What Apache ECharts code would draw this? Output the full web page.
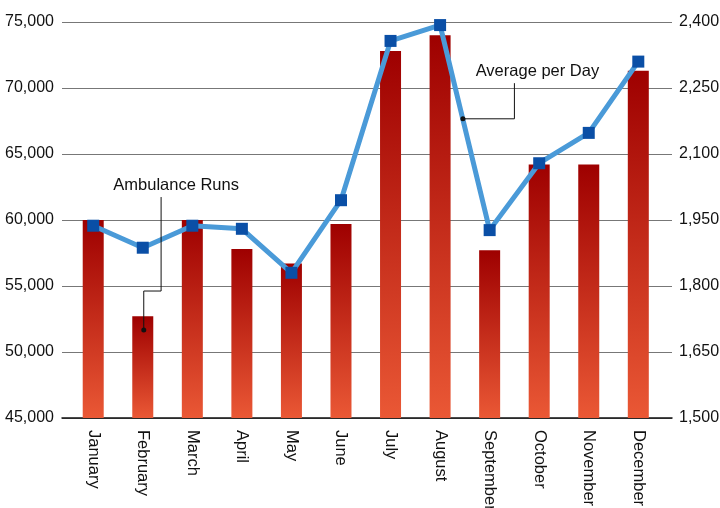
<!DOCTYPE html>
<html>
<head>
<meta charset="utf-8">
<script src="https://cdn.jsdelivr.net/npm/echarts@6/dist/echarts.min.js"></script>
<style>
  html, body { margin: 0; padding: 0; background: #fff; }
  #chart { width: 720px; height: 508px; }
</style>
</head>
<body>
<div id="chart"></div>
<script>
// months on the x axis
const months = ['January', 'February', 'March', 'April', 'May', 'June',
  'July', 'August', 'September', 'October', 'November', 'December'];
// monthly ambulance runs (left axis)
const runs = [60000, 52700, 60000, 57800, 56700, 59700, 72800, 74000, 57700, 64200, 64200, 71300];
// average runs per day (right axis)
const perDay = [1937, 1887, 1937, 1930, 1830, 1995, 2357, 2393, 1927, 2079, 2148, 2310];

// callout leader lines, in data units [monthIndex, value]
const runsCallout = [[1.37, 61740], [1.37, 54620], [1.02, 54620], [1.02, 51670]];
const dayCallout = [[8.5, 2261], [8.5, 2180], [7.46, 2180]];

var chartDom = document.getElementById('chart');
var myChart = echarts.init(chartDom);
var option;

const font = "'Liberation Sans', Arial, sans-serif";
const fmt = v => v.toLocaleString('en-US');

function leader(points, text, dx) {
  return points.map((p, i) => {
    const item = { value: p, symbolSize: 0 };
    if (i === 0) {
      item.label = {
        show: true, position: 'top', distance: 3, offset: [dx, 0],
        formatter: text, fontSize: 16.5, fontFamily: font, color: '#111'
      };
    }
    if (i === points.length - 1) {
      item.symbolSize = 5;
    }
    return item;
  });
}

option = {
  animation: false,
  textStyle: { fontFamily: font },
  grid: { left: 62, right: 48, top: 22, bottom: 90, outerBoundsMode: 'none' },
  xAxis: {
    type: 'value',
    min: -0.63,
    max: 11.68,
    splitLine: { show: false },
    axisTick: { show: false },
    axisLine: { show: true, lineStyle: { color: '#111', width: 1.5 } },
    axisLabel: {
      customValues: months.map((m, i) => i),
      formatter: v => months[Math.round(v)],
      rotate: -90,
      margin: 12,
      fontSize: 16.5,
      color: '#111',
      fontFamily: font
    }
  },
  yAxis: [
    {
      type: 'value',
      min: 45000,
      max: 75000,
      interval: 5000,
      axisLine: { show: false },
      axisTick: { show: false },
      axisLabel: { formatter: fmt, fontSize: 16, color: '#111', margin: 8, fontFamily: font },
      splitLine: { lineStyle: { color: '#777', width: 1 } }
    },
    {
      type: 'value',
      min: 1500,
      max: 2400,
      interval: 150,
      axisLine: { show: false },
      axisTick: { show: false },
      axisLabel: { formatter: fmt, fontSize: 16, color: '#111', margin: 7, fontFamily: font },
      splitLine: { show: false }
    }
  ],
  series: [
    {
      name: 'Ambulance Runs',
      type: 'bar',
      barWidth: 21,
      data: runs.map((v, i) => [i, v]),
      itemStyle: {
        color: new echarts.graphic.LinearGradient(0, 0, 0, 1, [
          { offset: 0, color: '#9e0000' },
          { offset: 1, color: '#ea5835' }
        ])
      },
      z: 2
    },
    {
      name: 'Average per Day',
      type: 'line',
      yAxisIndex: 1,
      data: perDay.map((v, i) => [i, v]),
      symbol: 'rect',
      symbolSize: 12,
      lineStyle: { color: '#4a9ad8', width: 5 },
      itemStyle: { color: '#0a4fa6' },
      z: 4
    },
    {
      type: 'line',
      silent: true,
      data: leader(runsCallout, 'Ambulance Runs', 15),
      symbol: 'circle',
      showSymbol: true,
      showAllSymbol: true,
      lineStyle: { color: '#111', width: 1 },
      itemStyle: { color: '#111', borderWidth: 0 },
      z: 5
    },
    {
      type: 'line',
      silent: true,
      yAxisIndex: 1,
      data: leader(dayCallout, 'Average per Day', 23),
      symbol: 'circle',
      showSymbol: true,
      showAllSymbol: true,
      lineStyle: { color: '#111', width: 1 },
      itemStyle: { color: '#111', borderWidth: 0 },
      z: 5
    }
  ]
};

option && myChart.setOption(option);
</script>
</body>
</html>
